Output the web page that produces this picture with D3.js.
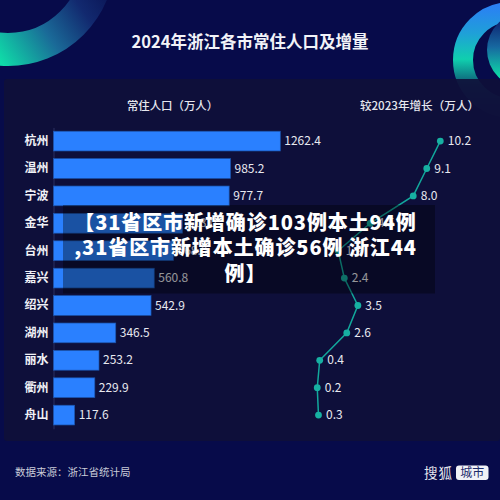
<!DOCTYPE html>
<html>
<head>
<meta charset="utf-8">
<script src="https://cdn.jsdelivr.net/npm/d3@7"></script>
<style>
html, body { margin: 0; padding: 0; background: #070b4a; }
svg { display: block; }
text { font-family: "Noto Sans CJK SC", "Noto Sans", sans-serif; }
</style>
</head>
<body>
<div id="frame"></div>
<script>
const cities = ["杭州", "温州", "宁波", "金华", "台州", "嘉兴", "绍兴", "湖州", "丽水", "衢州", "舟山"];
const population = [1262.4, 985.2, 977.7, 718.0, 668.0, 560.8, 542.9, 346.5, 253.2, 229.9, 117.6];
const growth = [10.2, 9.1, 8.0, 4.5, 1.9, 2.4, 3.5, 2.6, 0.4, 0.2, 0.3];
const overlayLines = ["【31省区市新增确诊103例本土94例", ",31省区市新增本土确诊56例 浙江44", "例】"];

const width = 500;
const height = 500;

let svg = d3.select("#frame")
    .append("svg")
    .attr("width", width)
    .attr("height", height);

let defs = svg.append("defs");

// gradient helper for the corner decorations
function addGradient(id, x1, y1, x2, y2, stops) {
    let g = defs.append("linearGradient")
        .attr("id", id)
        .attr("gradientUnits", "userSpaceOnUse")
        .attr("x1", x1).attr("y1", y1)
        .attr("x2", x2).attr("y2", y2);
    stops.forEach(s => {
        g.append("stop").attr("offset", s[0]).attr("stop-color", s[1]);
    });
}

addGradient("ringLeft", 5, 68, 105, 0, [[0, "#0fdca8"], [0.45, "#1a6a98"], [0.8, "#12296f"], [1, "#0c1a5c"]]);
addGradient("ringRight", 0, 5, 0, 118, [[0, "#2b7ff5"], [0.25, "#1fa0d8"], [0.48, "#10cfae"], [0.72, "#0e4f70"], [1, "#0a1a50"]]);
addGradient("ringInner", 0, 20, 0, 80, [[0, "#0d2270"], [0.45, "#1768a0"], [1, "#0de8a8"]]);

// background
svg.append("rect").attr("width", width).attr("height", height).attr("fill", "#070b4a");

// corner rings
svg.append("circle")
    .attr("cx", 8).attr("cy", -41)
    .attr("r", 90.5)
    .attr("fill", "none")
    .attr("stroke", "url(#ringLeft)")
    .attr("stroke-width", 33);
svg.append("circle")
    .attr("cx", 511).attr("cy", 60)
    .attr("r", 48)
    .attr("fill", "none")
    .attr("stroke", "url(#ringRight)")
    .attr("stroke-width", 20);
svg.append("circle")
    .attr("cx", 525).attr("cy", 50)
    .attr("r", 38)
    .attr("fill", "url(#ringInner)");

// panel
svg.append("rect")
    .attr("x", 4).attr("y", 79)
    .attr("width", 496).attr("height", 362)
    .attr("rx", 3)
    .attr("fill", "#0f1038")
    .attr("fill-opacity", 0.9);

// titles
svg.append("text")
    .attr("x", 250).attr("y", 48)
    .attr("text-anchor", "middle")
    .attr("font-size", 16.5)
    .attr("font-weight", 700)
    .attr("fill", "#f2f3f8")
    .text("2024年浙江各市常住人口及增量");

svg.append("text")
    .attr("x", 172.5).attr("y", 110)
    .attr("text-anchor", "middle")
    .attr("font-size", 11.4)
    .attr("font-weight", 500)
    .attr("fill", "#e6e7ee")
    .text("常住人口（万人）");

svg.append("text")
    .attr("x", 419.5).attr("y", 110)
    .attr("text-anchor", "middle")
    .attr("font-size", 11.6)
    .attr("font-weight", 500)
    .attr("fill", "#e6e7ee")
    .text("较2023年增长（万人）");

// scales
let yScale = d3.scaleBand()
    .domain(cities)
    .range([127.4, 428.8])
    .paddingInner(0.28)
    .paddingOuter(0.14);

let xScale = d3.scaleLinear()
    .domain([0, 1262.4])
    .range([53.5, 280.3]);

let growthScale = d3.scaleLinear()
    .domain([0, 10.2])
    .range([314.8, 440.3]);

let rowY = d => yScale(d) + yScale.bandwidth() / 2;

// city axis
let yAxis = svg.append("g")
    .attr("transform", "translate(53.5,0)")
    .call(d3.axisLeft(yScale).tickSize(0).tickPadding(5));
yAxis.select(".domain").attr("stroke", "#2b3160");
yAxis.selectAll("text")
    .attr("font-family", "\"Noto Sans CJK SC\"")
    .attr("font-size", 12)
    .attr("font-weight", 700)
    .attr("fill", "#f0f1f6");

// bars
svg.append("g")
    .selectAll("rect")
    .data(cities)
    .enter()
    .append("rect")
    .attr("x", xScale(0))
    .attr("y", d => yScale(d))
    .attr("width", (d, i) => xScale(population[i]) - xScale(0))
    .attr("height", yScale.bandwidth())
    .attr("fill", "#2a80ff")
    .attr("stroke", "#1c55ad")
    .attr("stroke-width", 0.7);

svg.append("g")
    .selectAll("text")
    .data(cities)
    .enter()
    .append("text")
    .attr("x", (d, i) => xScale(population[i]) + 4)
    .attr("y", d => rowY(d) + 4)
    .attr("font-family", "\"Noto Sans\"")
    .attr("font-size", 12)
    .attr("fill", "#e8e9f0")
    .text((d, i) => population[i].toFixed(1));

// growth line
let line = d3.line()
    .x(d => growthScale(growth[cities.indexOf(d)]))
    .y(d => rowY(d));

svg.append("path")
    .datum(cities)
    .attr("d", line)
    .attr("fill", "none")
    .attr("stroke", "#12a89c")
    .attr("stroke-width", 1.5);

svg.append("g")
    .selectAll("circle")
    .data(cities)
    .enter()
    .append("circle")
    .attr("cx", (d, i) => growthScale(growth[i]))
    .attr("cy", d => rowY(d))
    .attr("r", 3.4)
    .attr("fill", "#17b0a2");

svg.append("g")
    .selectAll("text")
    .data(cities)
    .enter()
    .append("text")
    .attr("x", (d, i) => growthScale(growth[i]) + 7.5)
    .attr("y", d => rowY(d) + 4)
    .attr("font-family", "\"Noto Sans\"")
    .attr("font-size", 12)
    .attr("fill", "#e8e9f0")
    .text((d, i) => growth[i].toFixed(1));

// footer
svg.append("text")
    .attr("x", 15).attr("y", 476)
    .attr("font-size", 10.5)
    .attr("fill", "#c9cbd8")
    .text("数据来源：浙江省统计局");

svg.append("text")
    .attr("x", 424).attr("y", 478)
    .attr("font-size", 13.5)
    .attr("letter-spacing", 1)
    .attr("fill", "#e6e7ee")
    .text("搜狐");

svg.append("rect")
    .attr("x", 456).attr("y", 465.5)
    .attr("width", 32.5).attr("height", 14.5)
    .attr("rx", 3)
    .attr("fill", "#f1f2f7");

svg.append("text")
    .attr("x", 472.2).attr("y", 477)
    .attr("text-anchor", "middle")
    .attr("font-size", 12)
    .attr("fill", "#1a2a6a")
    .text("城市");

// overlay banner
svg.append("rect")
    .attr("x", 63).attr("y", 205)
    .attr("width", 372).attr("height", 88.5)
    .attr("fill", "#000")
    .attr("fill-opacity", 0.36);

svg.append("g")
    .selectAll("text")
    .data(overlayLines)
    .enter()
    .append("text")
    .attr("x", 245.5)
    .attr("y", (d, i) => 229.5 + i * 25.7)
    .attr("text-anchor", "middle")
    .attr("font-size", 20)
    .attr("font-weight", 900)
    .attr("letter-spacing", 0.9)
    .attr("fill", "#ffffff")
    .text(d => d);
</script>
</body>
</html>
